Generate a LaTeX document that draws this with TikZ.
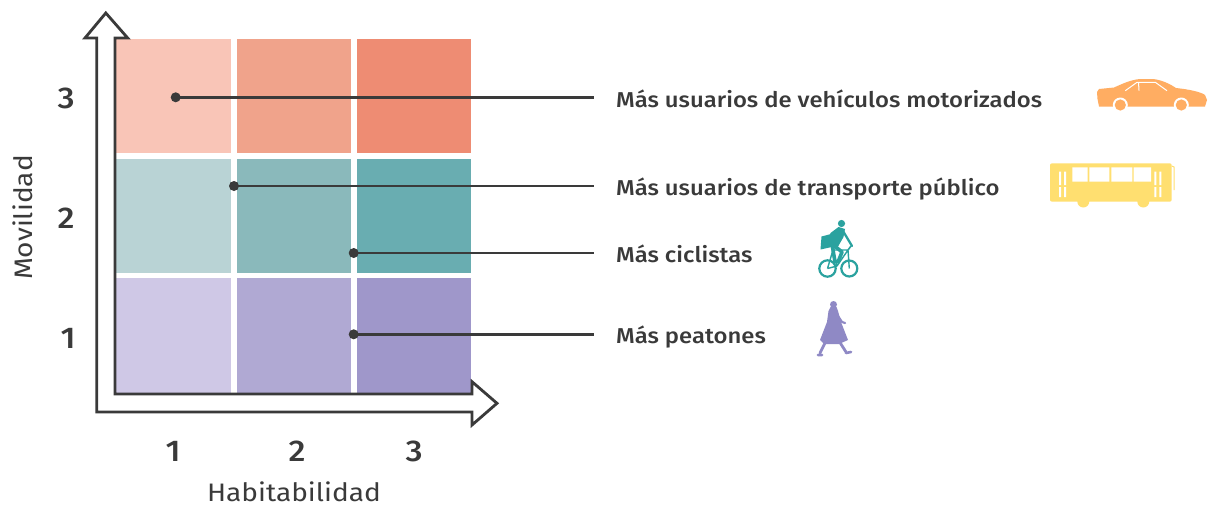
\documentclass[tikz,border=0pt]{standalone}
\usepackage{fontspec}
\setmainfont{Fira Sans Medium}[FakeStretch=1.11]
\newfontfamily\axfont{Fira Sans}[FakeStretch=1.11]
\begin{document}
\begin{tikzpicture}[x=1pt,y=-1pt,
  txt/.style={text=ink,inner sep=0pt,font=\fontsize{21.5}{24}\selectfont},
  num/.style={text=ink,inner sep=0pt,font=\fontsize{30}{32}\selectfont},
  axlab/.style={text=ink,inner sep=0pt,font=\axfont\fontsize{25.3}{27}\selectfont},
  dot/.style={circle,fill=ink,inner sep=0pt,minimum size=10pt},
  conn/.style={draw=ink,line width=2.6pt},
  cell/.style={inner sep=0pt,anchor=north west,minimum width=116pt,minimum height=114pt}]
\definecolor{ink}{HTML}{3A3A3A}
\definecolor{cA}{HTML}{F9C5B7}\definecolor{cB}{HTML}{F0A38B}\definecolor{cC}{HTML}{EE8C73}
\definecolor{cD}{HTML}{B9D3D5}\definecolor{cE}{HTML}{8AB9BB}\definecolor{cF}{HTML}{69ADB1}
\definecolor{cG}{HTML}{CFC8E6}\definecolor{cH}{HTML}{B0A9D3}\definecolor{cI}{HTML}{9F97CA}
\definecolor{car}{HTML}{FFAD62}\definecolor{bus}{HTML}{FFDF70}
\definecolor{bike}{HTML}{2AA29F}\definecolor{walk}{HTML}{8F89C5}
\useasboundingbox[fill=white] (0,0) rectangle (1210,506);
% grid cells
\node[cell,fill=cA] (c13) at (115,39) {};
\node[cell,fill=cB,minimum width=114pt] (c23) at (236.7,39) {};
\node[cell,fill=cC,minimum width=114.3pt] (c33) at (356.7,39) {};
\node[cell,fill=cD,minimum height=113.7pt] (c12) at (115,159) {};
\node[cell,fill=cE,minimum width=114pt,minimum height=113.7pt] (c22) at (236.7,159) {};
\node[cell,fill=cF,minimum width=114.3pt,minimum height=113.7pt] (c32) at (356.7,159) {};
\node[cell,fill=cG,minimum height=115pt] (c11) at (115,278) {};
\node[cell,fill=cH,minimum width=114pt,minimum height=115pt] (c21) at (236.7,278) {};
\node[cell,fill=cI,minimum width=114.3pt,minimum height=115pt] (c31) at (356.7,278) {};
% axes (hollow arrow)
\draw[draw=ink,line width=2.8pt,line join=miter]
  (115,394) -- (115,38) -- (127.7,38) -- (105.8,13) -- (85,38) -- (96.7,38)
  -- (96.7,412) -- (472,412) -- (472,425) -- (497,403.3) -- (472,381.7)
  -- (472,394) -- cycle;
% axis numbers
\node[num] (y3) at (66,98) {3};
\node[num] (y2) at (66,218) {2};
\node[num] (y1) at (68,338) {1};
\node[num] (x1) at (173,451) {1};
\node[num] (x2) at (297,451) {2};
\node[num] (x3) at (414,451) {3};
\node[axlab,rotate=90] (ylab) at (23,217.5) {Movilidad};
\node[axlab] (xlab) at (294,492) {Habitabilidad};
% dots
\node[dot] (d1) at (175.7,97.3) {};
\node[dot] (d2) at (234,186) {};
\node[dot] (d3) at (353.7,253) {};
\node[dot] (d4) at (353.7,334.3) {};
\coordinate (e1) at (594,97.3);
\coordinate (e2) at (594,186);
\coordinate (e3) at (594,253);
\coordinate (e4) at (594,334.3);
\draw[conn] (d1.center) -- (e1);
\draw[conn] (d2.center) -- (e2);
\draw[conn] (d3.center) -- (e3);
\draw[conn] (d4.center) -- (e4);
% labels
\node[txt,anchor=base west] (l1) at (616,107.3) {Más usuarios de vehículos motorizados};
\node[txt,anchor=base west] (l2) at (616,195.5) {Más usuarios de transporte público};
\node[txt,anchor=base west] (l3) at (616,262.5) {Más ciclistas};
\node[txt,anchor=base west] (l4) at (616,343.5) {Más peatones};
% car icon
\fill[car] (1099,106.5) -- (1097.5,99) -- (1097,92) -- (1099,89) -- (1114,87.5)
  .. controls (1122,84) and (1130,80) .. (1140,79) -- (1153,79)
  .. controls (1162,80) and (1170,84) .. (1176,88)
  .. controls (1190,89.5) and (1201,92) .. (1205,95) -- (1207,100) -- (1205,106.5) -- cycle;
\fill[white] (1120.3,105) circle (7.5) (1181.3,105) circle (7.5);
\fill[car] (1120.3,105) circle (5.6) (1181.3,105) circle (5.6);
\draw[white,line width=1pt] (1125.3,90.7) -- (1137,82.3) -- (1155.3,82.3) -- (1167,90.7);
\draw[white,line width=1pt] (1138.5,82.3) -- (1139,90.7);
% bus icon
\fill[bus,rounded corners=2pt] (1050,163.3) rectangle (1171.7,201.7);
\fill[bus] (1083.3,201.5) circle (6) (1143.3,201.5) circle (6);
\fill[white] (1072.3,167.3) rectangle (1087.7,181.7)
  (1089.3,167.3) rectangle (1109.3,181.7)
  (1111.3,167.3) rectangle (1132.3,181.7)
  (1133.7,167.3) rectangle (1151,181.7);
\fill[white] (1059,171.7) rectangle (1061,185) (1059,187) rectangle (1061,197)
  (1064,171.7) rectangle (1066,185) (1064,187) rectangle (1066,197)
  (1154.3,171.7) rectangle (1156.3,185) (1154.3,187) rectangle (1156.3,197)
  (1159.3,171.7) rectangle (1161.3,185) (1159.3,187) rectangle (1161.3,197);
\draw[bus,line width=1pt] (1171.7,166) -- (1174,167) -- (1174,190);
% cyclist icon
\draw[bike,line width=2.2pt] (827.5,268.5) circle (8.2) (849.3,268.5) circle (8);
\draw[bike,line width=1.4pt,line join=round] (827.5,268.5) -- (837,266) -- (848,250) -- (849.3,268.5)
  (827.5,268.5) -- (833,250) -- (837,266) (833,250) -- (848,250);
\draw[bike,line width=1.6pt] (848,250) -- (851,246);
\fill[bike] (841.5,223.5) circle (3.6);
\fill[bike] (838.5,227) -- (845,229) -- (843.5,237) -- (837.5,247.5) -- (826.5,245.5) -- (830.5,233) -- cycle;
\fill[bike] (821.5,236.5) -- (831,234) -- (834,246.5) -- (820.5,249.5) -- cycle;
\draw[bike,line width=2.3pt,line cap=round] (843,231) -- (852,246);
\draw[bike,line width=3.6pt,line cap=round,line join=round] (832,244) -- (842,252) -- (838,262)
  (832,244) -- (835,262);
% pedestrian icon
\fill[walk] (833.5,304.5) circle (3.5);
\fill[walk] (830.5,307) -- (836.5,307) -- (838,311) -- (841,322) -- (848,340) -- (839,344)
  -- (824,344) -- (820,340) -- (827,322) -- (828.5,311) -- cycle;
\draw[walk,line width=2.2pt,line cap=round,line join=round] (836,313) -- (842,322) -- (845,323);
\draw[walk,line width=2.8pt,line cap=round,line join=round] (826,341) -- (820,353)
  (839,341) -- (846,352);
\draw[walk,line width=2.6pt,line cap=round] (818,355) -- (822,355) (846,353) -- (851,352);
\end{tikzpicture}
\end{document}
